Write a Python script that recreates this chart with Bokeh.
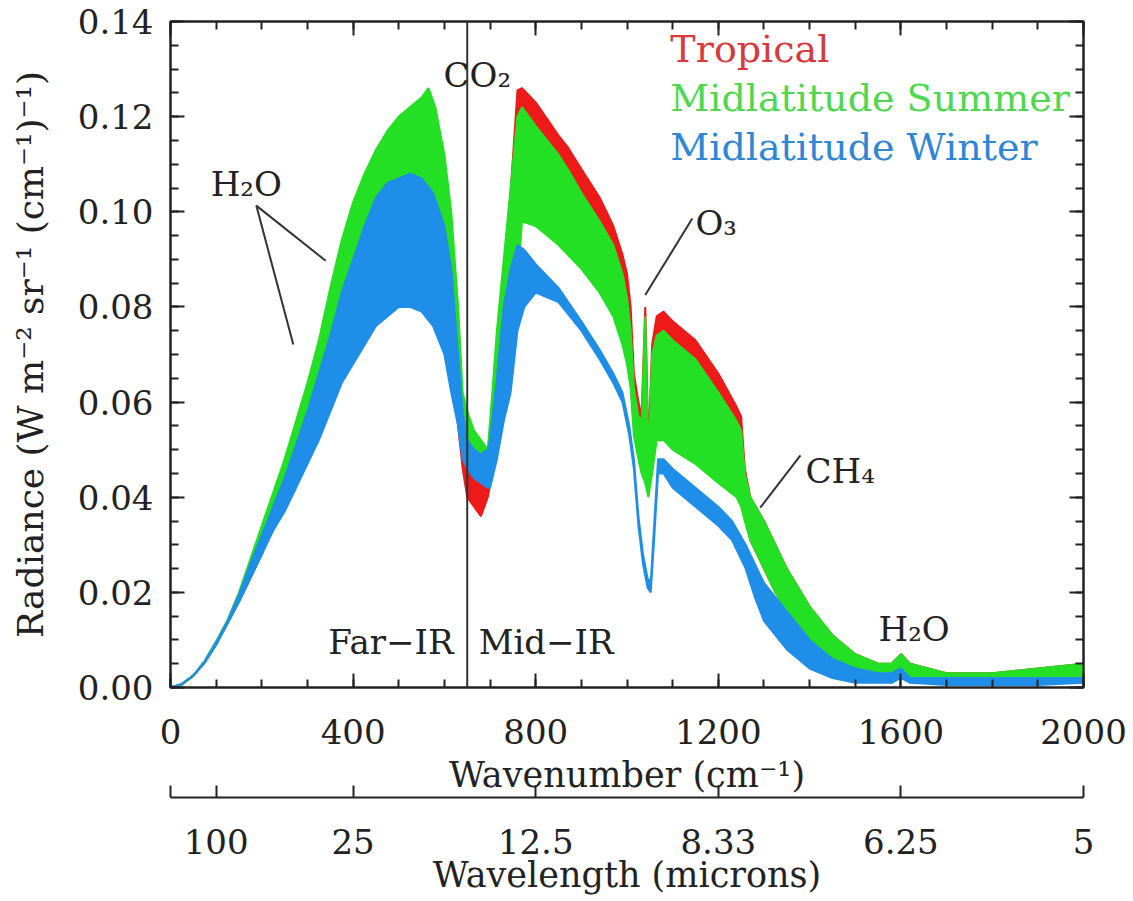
from bokeh.plotting import figure
from bokeh.models import (Range1d, LinearAxis, SingleIntervalTicker, FixedTicker,
                          NumeralTickFormatter, Span, Label, CustomLabelingPolicy)
from bokeh.embed import file_html
from bokeh.resources import INLINE

# ---------------- data ----------------
# Midlatitude Winter
wn_winter = [0, 25, 50, 75, 100, 125, 150, 175, 200, 225, 250, 275, 300, 325, 350,
             375, 400, 425, 450, 475, 500, 525, 550, 575, 600, 615, 630, 640, 650, 665,
             680, 695, 700, 715, 730, 745, 760, 775, 800, 850, 900, 940, 970, 990, 1005,
             1015, 1025, 1035, 1045, 1052, 1060, 1068, 1080, 1100, 1150, 1200, 1230, 1260,
             1280, 1300, 1325, 1350, 1375, 1400, 1450, 1500, 1550, 1580, 1600, 1620, 1700,
             1800, 1900, 2000]
winter_upper = [0, 0.0007, 0.0025, 0.0055, 0.0095, 0.014, 0.0195, 0.026, 0.032, 0.038,
                0.044, 0.051, 0.058, 0.066, 0.074, 0.083, 0.090, 0.097, 0.103, 0.106,
                0.107, 0.108, 0.107, 0.104, 0.097, 0.088, 0.070, 0.058, 0.052, 0.050,
                0.049, 0.050, 0.052, 0.065, 0.080, 0.088, 0.093, 0.092, 0.089, 0.084,
                0.077, 0.071, 0.066, 0.062, 0.055, 0.048, 0.036, 0.028, 0.023, 0.022,
                0.035, 0.048, 0.048, 0.046, 0.042, 0.038, 0.035, 0.030, 0.026, 0.022,
                0.019, 0.016, 0.013, 0.010, 0.006, 0.004, 0.003, 0.003, 0.004, 0.002,
                0.002, 0.002, 0.002, 0.002]
winter_lower = [0, 0.0007, 0.0025, 0.0052, 0.009, 0.0135, 0.018, 0.023, 0.028, 0.033,
                0.037, 0.042, 0.047, 0.052, 0.058, 0.064, 0.068, 0.072, 0.076, 0.078,
                0.080, 0.080, 0.079, 0.076, 0.070, 0.062, 0.055, 0.048, 0.046, 0.044,
                0.043, 0.042, 0.042, 0.048, 0.056, 0.062, 0.075, 0.080, 0.083, 0.081,
                0.075, 0.069, 0.064, 0.060, 0.053, 0.046, 0.034, 0.026, 0.021, 0.020,
                0.032, 0.045, 0.045, 0.042, 0.038, 0.034, 0.031, 0.025, 0.019, 0.014,
                0.011, 0.008, 0.006, 0.004, 0.002, 0.001, 0.001, 0.001, 0.002, 0.001,
                0.0005, 0.0005, 0.0005, 0.001]

# Midlatitude Summer and Tropical (same wavenumber grid)
wn_summer_tropical = [0, 25, 50, 75, 100, 125, 150, 175, 200, 225, 250, 275, 300, 325, 350,
                      375, 400, 425, 450, 475, 500, 525, 550, 565, 580, 600, 615, 630, 640,
                      650, 665, 680, 695, 705, 715, 730, 745, 760, 770, 800, 850, 870, 900,
                      940, 970, 990, 1000, 1008, 1015, 1025, 1032, 1040, 1047, 1055, 1065,
                      1080, 1100, 1150, 1200, 1240, 1250, 1258, 1270, 1300, 1325, 1350, 1375,
                      1400, 1450, 1500, 1550, 1580, 1600, 1620, 1700, 1800, 1900, 2000]
summer_upper = [0, 0.0007, 0.0025, 0.0056, 0.0097, 0.0142, 0.020, 0.027, 0.034, 0.041,
                0.048, 0.056, 0.064, 0.073, 0.084, 0.094, 0.102, 0.108, 0.113, 0.117,
                0.120, 0.122, 0.124, 0.126, 0.122, 0.112, 0.100, 0.080, 0.062, 0.058,
                0.054, 0.052, 0.050, 0.062, 0.075, 0.090, 0.105, 0.120, 0.122, 0.118,
                0.112, 0.109, 0.104, 0.098, 0.093, 0.087, 0.082, 0.075, 0.063, 0.057,
                0.056, 0.078, 0.048, 0.070, 0.074, 0.075, 0.073, 0.069, 0.062, 0.056,
                0.054, 0.045, 0.040, 0.035, 0.030, 0.025, 0.021, 0.017, 0.011, 0.007,
                0.005, 0.005, 0.007, 0.005, 0.003, 0.003, 0.004, 0.005]
summer_lower = [0, 0.0007, 0.0025, 0.0053, 0.009, 0.0135, 0.018, 0.023, 0.028, 0.034,
                0.039, 0.045, 0.052, 0.058, 0.066, 0.074, 0.080, 0.086, 0.090, 0.093,
                0.094, 0.095, 0.094, 0.092, 0.088, 0.082, 0.072, 0.060, 0.052, 0.049,
                0.047, 0.046, 0.045, 0.050, 0.055, 0.062, 0.070, 0.085, 0.098, 0.097,
                0.093, 0.091, 0.088, 0.083, 0.078, 0.072, 0.068, 0.063, 0.053, 0.048,
                0.045, 0.043, 0.040, 0.045, 0.052, 0.052, 0.050, 0.047, 0.043, 0.040,
                0.038, 0.035, 0.031, 0.025, 0.020, 0.016, 0.012, 0.009, 0.005, 0.003,
                0.002, 0.002, 0.003, 0.002, 0.001, 0.001, 0.002, 0.002]
tropical_upper = [0, 0.0007, 0.0025, 0.0055, 0.0095, 0.014, 0.0195, 0.026, 0.033, 0.040,
                  0.047, 0.054, 0.062, 0.071, 0.082, 0.092, 0.100, 0.106, 0.111, 0.115,
                  0.118, 0.120, 0.122, 0.124, 0.120, 0.110, 0.098, 0.078, 0.058, 0.050,
                  0.047, 0.045, 0.046, 0.058, 0.072, 0.088, 0.104, 0.1255, 0.126, 0.123,
                  0.116, 0.1136, 0.109, 0.103, 0.097, 0.091, 0.087, 0.080, 0.066, 0.060,
                  0.057, 0.080, 0.050, 0.072, 0.078, 0.079, 0.077, 0.073, 0.066, 0.059,
                  0.057, 0.046, 0.040, 0.035, 0.030, 0.025, 0.021, 0.017, 0.011, 0.007,
                  0.005, 0.005, 0.007, 0.005, 0.003, 0.003, 0.004, 0.005]
tropical_lower = [0, 0.0007, 0.0025, 0.0053, 0.009, 0.0135, 0.018, 0.023, 0.028, 0.034,
                  0.039, 0.045, 0.052, 0.058, 0.066, 0.074, 0.080, 0.086, 0.090, 0.093,
                  0.094, 0.095, 0.094, 0.092, 0.088, 0.082, 0.070, 0.055, 0.046, 0.040,
                  0.038, 0.036, 0.040, 0.045, 0.052, 0.060, 0.070, 0.090, 0.100, 0.100,
                  0.096, 0.094, 0.091, 0.086, 0.081, 0.075, 0.070, 0.064, 0.055, 0.050,
                  0.047, 0.045, 0.042, 0.047, 0.055, 0.056, 0.054, 0.051, 0.047, 0.044,
                  0.040, 0.036, 0.031, 0.025, 0.020, 0.016, 0.012, 0.009, 0.005, 0.003,
                  0.002, 0.002, 0.003, 0.002, 0.001, 0.001, 0.002, 0.002]

series_names = ["Tropical", "Midlatitude Summer", "Midlatitude Winter"]

# axis ticks
wavelength_tick_wn = [0, 100, 400, 800, 1200, 1600, 2000]
wavelength_tick_labels = ["", "100", "25", "12.5", "8.33", "6.25", "5"]
far_mid_boundary_wn = 650

# ---------------- styles ----------------
FONT = "DejaVu Serif"
INK = "#222222"
RED, GREEN, BLUE = "#ee1a1a", "#24e024", "#1f8ee8"
LEG_COLORS = ["#d63a3a", "#4fd84f", "#2e86d6"]

p = figure(width=1133, height=901, output_backend="svg", toolbar_location=None,
           x_range=Range1d(0, 2000), y_range=Range1d(0, 0.14),
           min_border_left=170, min_border_right=50, min_border_top=21,
           min_border_bottom=214,
           x_axis_label="Wavenumber (cm⁻¹)",
           y_axis_label="Radiance (W m⁻² sr⁻¹ (cm⁻¹)⁻¹)")
p.xgrid.grid_line_color = None
p.ygrid.grid_line_color = None
p.outline_line_color = INK
p.outline_line_width = 2
p.background_fill_color = "white"
p.border_fill_color = "white"

# spectra: drawn as bands between line-bottom and line-top envelopes
for x, lo, hi, col in [(wn_summer_tropical, tropical_lower, tropical_upper, RED),
                       (wn_summer_tropical, summer_lower, summer_upper, GREEN),
                       (wn_winter, winter_lower, winter_upper, BLUE)]:
    p.varea(x=x, y1=lo, y2=hi, fill_color=col)
    p.line(x=x, y=hi, line_color=col, line_width=2)
    p.line(x=x, y=lo, line_color=col, line_width=2)

p.add_layout(Span(location=far_mid_boundary_wn, dimension="height",
                  line_color="#333333", line_width=2))

def style_axis(ax, size="34px", title_size="35px"):
    ax.axis_line_color = INK
    ax.axis_line_width = 2
    ax.major_tick_line_color = INK
    ax.major_tick_line_width = 2
    ax.minor_tick_line_color = INK
    ax.minor_tick_line_width = 2
    ax.major_tick_in = 14
    ax.major_tick_out = 0
    ax.minor_tick_in = 8
    ax.minor_tick_out = 0
    ax.major_label_text_font = FONT
    ax.major_label_text_color = INK
    ax.major_label_text_font_size = size
    ax.axis_label_text_font = FONT
    ax.axis_label_text_font_size = title_size
    ax.axis_label_text_font_style = "normal"
    ax.axis_label_text_color = INK

xt = SingleIntervalTicker(interval=400, num_minor_ticks=4)
yt = SingleIntervalTicker(interval=0.02, num_minor_ticks=4)

xa = p.xaxis[0]
xa.ticker = xt
style_axis(xa)
xa.major_label_standoff = 31
xa.axis_label_standoff = 8

ya = p.yaxis[0]
ya.ticker = yt
ya.formatter = NumeralTickFormatter(format="0.00")
style_axis(ya, title_size="36px")
ya.major_label_standoff = 17
ya.axis_label_standoff = 24

no_labels = CustomLabelingPolicy(code="return []")

top = LinearAxis(ticker=xt, major_label_policy=no_labels)
style_axis(top, size="2px")
top.major_label_standoff = 0
p.add_layout(top, "above")

right = LinearAxis(ticker=yt, major_label_policy=no_labels)
style_axis(right, size="2px")
right.major_label_standoff = 0
p.add_layout(right, "right")

wl = LinearAxis(ticker=FixedTicker(ticks=wavelength_tick_wn),
                major_label_overrides={k: v for k, v in zip(wavelength_tick_wn, wavelength_tick_labels)},
                axis_label="Wavelength (microns)")
style_axis(wl)
wl.minor_tick_line_color = None
wl.major_tick_in = 12
wl.major_label_standoff = 31
wl.axis_label_standoff = -2
p.add_layout(wl, "below")

# legend-like coloured labels
legend_y = [0.1343, 0.1240, 0.1137]
for name, c, yy in zip(series_names, LEG_COLORS, legend_y):
    p.add_layout(Label(x=1095, y=yy, text=name, text_color=c, text_font=FONT,
                       text_font_size="38px", text_baseline="middle"))

# annotations
notes = [("H₂O", 88, 0.1059, "left"), ("CO₂", 598, 0.1287, "left"),
         ("O₃", 1150, 0.0977, "left"), ("CH₄", 1391, 0.0456, "left"),
         ("H₂O", 1551, 0.0124, "left"), ("Far−IR", 620, 0.0095, "right"),
         ("Mid−IR", 675, 0.0095, "left")]
for t, x, y, al in notes:
    p.add_layout(Label(x=x, y=y, text=t, text_color=INK, text_font=FONT,
                       text_font_size="34px", text_align=al, text_baseline="alphabetic"))

leader_x0 = [188, 188, 1143, 1380]
leader_y0 = [0.1013, 0.1013, 0.0986, 0.0488]
leader_x1 = [340, 269, 1040, 1292]
leader_y1 = [0.0897, 0.0721, 0.0825, 0.0378]
p.segment(x0=leader_x0, y0=leader_y0, x1=leader_x1, y1=leader_y1,
          line_color="#333333", line_width=2)

open("out.html", "w").write(file_html(p, INLINE))
